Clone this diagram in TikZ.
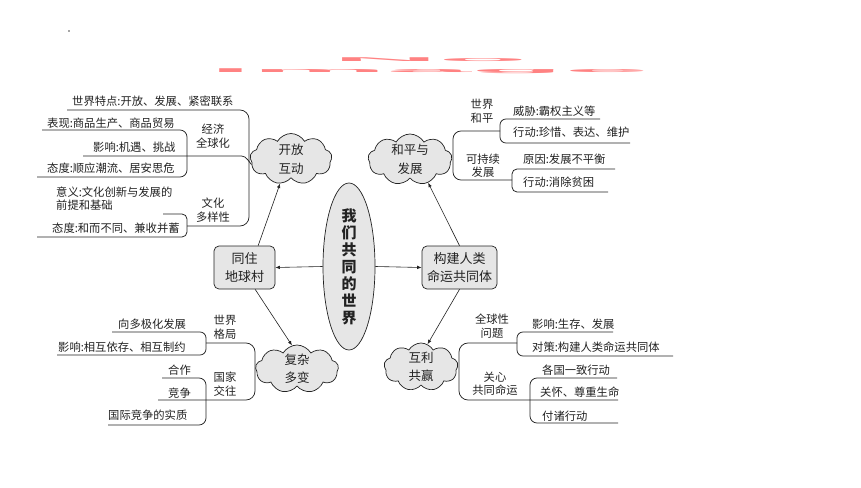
\documentclass[tikz,border=0pt]{standalone}
\usepackage{fontspec}
\setmainfont{Noto Sans CJK SC}
\newfontfamily\wmfont{Liberation Sans}
\usetikzlibrary{shapes.symbols,shapes.geometric,arrows.meta}
\definecolor{ln}{HTML}{222222}
\definecolor{fl}{HTML}{E6E6E6}
\definecolor{wm}{HTML}{FF8282}
\tikzset{
 item/.style={anchor=west,inner sep=0pt,font=\fontsize{11.3}{13.5}\selectfont,text=ln},
 lbl/.style={align=center,inner sep=0pt,font=\fontsize{11.3}{13.5}\selectfont,text=ln},
 cl/.style={cloud,cloud puffs=9,cloud puff arc=120,cloud ignores aspect,draw=ln,fill=fl,line width=0.7pt,inner sep=0pt,align=center,font=\fontsize{12.5}{18.5}\selectfont,text=ln},
 bx/.style={draw=ln,fill=fl,rounded corners=5pt,line width=0.7pt,align=center,inner sep=0pt,font=\fontsize{13}{18}\selectfont,text=ln},
 br/.style={draw=ln,line width=0.75pt},
 arr/.style={draw=ln,line width=0.6pt,-{Latex[length=4.5pt,width=3.5pt]}},
}
\begin{document}
\begin{tikzpicture}[x=1pt,y=-1pt]
\useasboundingbox (0,0) rectangle (861,487);
\fill[white] (0,0) rectangle (861,487);
% watermark
\fill[gray!70] (68,30) rectangle (70,32);
\node[text=wm,inner sep=0pt,anchor=base] (wmA) at (430,62) {\wmfont\bfseries\fontsize{10}{10}\selectfont\scalebox{14.6}[0.55]{No}};
\node[text=wm,inner sep=0pt,anchor=base] (wmB) at (429,72.5) {\wmfont\bfseries\fontsize{10}{10}\selectfont\scalebox{15.2}[0.55]{Image}};
% center
\node[ellipse,draw=ln,fill=fl,line width=0.7pt,minimum width=52pt,minimum height=167pt,inner sep=0pt,align=center,font=\bfseries\fontsize{15}{17}\selectfont,text=ln] (ell) at (349,266.5) {我\\们\\共\\同\\的\\世\\界};
\node[bx,minimum width=61pt,minimum height=43pt] (boxL) at (244.5,267.5) {同住\\地球村};
\node[bx,minimum width=75pt,minimum height=43pt] (boxR) at (459.5,267.5) {构建人类\\命运共同体};
\node[cl,minimum width=82pt,minimum height=51pt] (c1) at (291,159) {开放\\互动};
\node[cl,minimum width=84pt,minimum height=51pt] (c2) at (410,159.5) {和平与\\发展};
\node[cl,minimum width=83pt,minimum height=48pt] (c3) at (297,369) {复杂\\多变};
\node[cl,minimum width=74pt,minimum height=48pt] (c4) at (421,367) {互利\\共赢};
\draw[arr] (ell.west) -- (boxL.east);
\draw[arr] (ell.east) -- (boxR.west);
\draw[arr] (boxL.58) -- (c1.-114);
\draw[arr] (boxR.north) -- (c2.-52);
\draw[arr] (boxL.-64) -- (c3.102);
\draw[arr] (boxR.south) -- (c4.74);
% top left
\node[item] (t1) at (72,101) {世界特点:开放、发展、紧密联系};
\node[item] (t2) at (47,123) {表现:商品生产、商品贸易};
\node[item] (t3) at (93,147) {影响:机遇、挑战};
\node[item] (t4) at (47,168) {态度:顺应潮流、居安思危};
\node[item,align=left] (t5) at (56,198.5) {意义:文化创新与发展的\\前提和基础};
\node[item] (t6) at (52,228) {态度:和而不同、兼收并蓄};
\node[lbl] (l1) at (213,136) {经济\\全球化};
\node[lbl] (l2) at (213,210) {文化\\多样性};
\draw[br,rounded corners=9pt] (67,110) -| (249,165) |- (187,226);
\draw[br] (83,156) -- (238,156) .. controls (245,156) .. (c1.188);
\draw[br,rounded corners=7pt] (42,130) -| (187,156) |- (37,177);
\draw[br,rounded corners=5pt] (163,214) -| (187,226) |- (37,237);
% top right
\node[lbl] (l3) at (482,111) {世界\\和平};
\node[item] (t7) at (513,111) {威胁:霸权主义等};
\node[item] (t8) at (513,132) {行动:珍惜、表达、维护};
\node[lbl] (l4) at (483,165.5) {可持续\\发展};
\node[item] (t9) at (523,159) {原因:发展不平衡};
\node[item] (t10) at (523,182) {行动:消除贫困};
\draw[br,rounded corners=8pt] (500,131) -| (453,160) |- (512,180);
\draw[br,rounded corners=6pt] (600,119) -| (500,131) |- (630,143);
\draw[br,rounded corners=5pt] (615,169) -| (512,180) |- (608,192);
% bottom left
\node[lbl] (l5) at (225,327) {世界\\格局};
\node[item] (t11) at (118,324) {向多极化发展};
\node[item] (t12) at (58,347) {影响:相互依存、相互制约};
\node[lbl] (l6) at (225,384) {国家\\交往};
\node[item] (t13) at (168,370) {合作};
\node[item] (t14) at (168,393) {竞争};
\node[item] (t15) at (108,415) {国际竞争的实质};
\draw[br,rounded corners=9pt] (206,343) -| (255,369) |- (158,400);
\draw[br,rounded corners=6pt] (112,332) -| (206,343) |- (57,355);
\draw[br,rounded corners=7pt] (162,378) -| (206,400) |- (108,425);
% bottom right
\node[lbl] (l7) at (492,326) {全球性\\问题};
\node[item] (t16) at (532,324) {影响:生存、发展};
\node[item] (t17) at (532,347) {对策:构建人类命运共同体};
\node[lbl] (l8) at (495,383.5) {关心\\共同命运};
\node[item] (t18) at (542,370) {各国一致行动};
\node[item] (t19) at (540,392) {关怀、尊重生命};
\node[item] (t20) at (542,416) {付诸行动};
\draw[br,rounded corners=9pt] (517,343) -| (459,367) |- (618,400);
\draw[br,rounded corners=6pt] (613,332) -| (517,343) |- (673,356);
\draw[br,rounded corners=7pt] (617,378) -| (530,400) |- (618,423);
\end{tikzpicture}
\end{document}
